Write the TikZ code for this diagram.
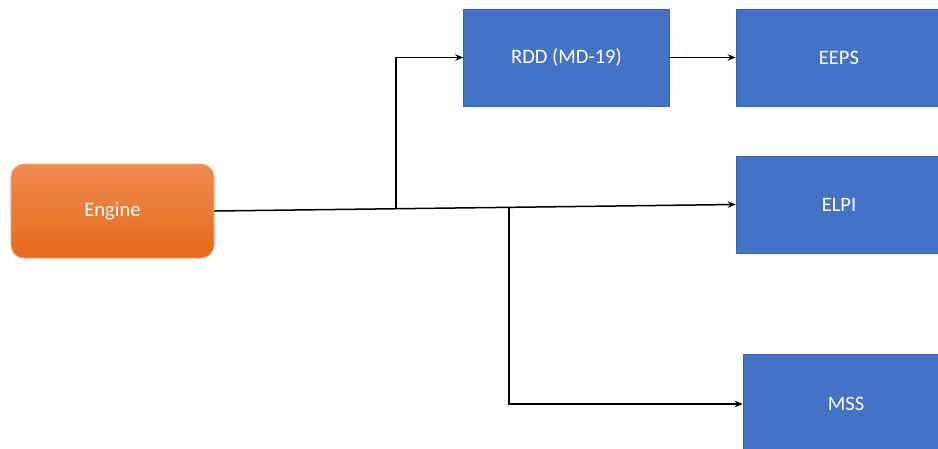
\documentclass[tikz,border=0pt]{standalone}
\usepackage{fontspec}
\setmainfont{Carlito}
\usetikzlibrary{arrows.meta,calc}
\definecolor{boxblue}{RGB}{68,114,196}
\definecolor{boxedge}{RGB}{58,98,170}
\definecolor{orangetop}{RGB}{240,139,84}
\definecolor{orangebot}{RGB}{228,106,24}
\definecolor{orangeedge}{RGB}{244,165,120}
\tikzset{
  bluebox/.style={rectangle, fill=boxblue, draw=boxedge, line width=0.6pt,
    minimum width=206pt, minimum height=97pt, inner sep=0pt,
    text=white, font=\fontsize{20.5}{24}\selectfont},
  enginebox/.style={rectangle, rounded corners=13pt, top color=orangetop,
    bottom color=orangebot, draw=orangeedge, line width=0.6pt,
    minimum width=203pt, minimum height=94pt, inner sep=0pt,
    text=white, font=\fontsize{20.5}{24}\selectfont},
  link/.style={draw=black, line width=1.5pt, -{Stealth[length=8pt,width=6.5pt]}}
}
\begin{document}
\begin{tikzpicture}[x=1pt,y=-1pt]
  \path[use as bounding box, clip] (0,0) rectangle (938,448);
  % boxes
  \node[enginebox] (engine) at (112.5,211) {Engine};
  \node[bluebox] (rdd)  at (566.5,57.5) {RDD (MD-19)};
  \node[bluebox] (eeps) at (839,57.5) {EEPS};
  \node[bluebox] (elpi) at (839,204.5) {ELPI};
  \node[bluebox, minimum height=100pt] (mss) at (846,404) {MSS};
  % main line from engine to ELPI with two branch points
  \draw[link] (engine.east) -- (elpi.west);
  \coordinate (j1) at ($(engine.east)!0.3487!(elpi.west)$);
  \coordinate (j2) at ($(engine.east)!0.565!(elpi.west)$);
  % branches
  \draw[link] (j1) |- (rdd.west);
  \draw[link] (j2) |- (mss.west);
  \draw[link] (rdd.east) -- (eeps.west);
\end{tikzpicture}
\end{document}
